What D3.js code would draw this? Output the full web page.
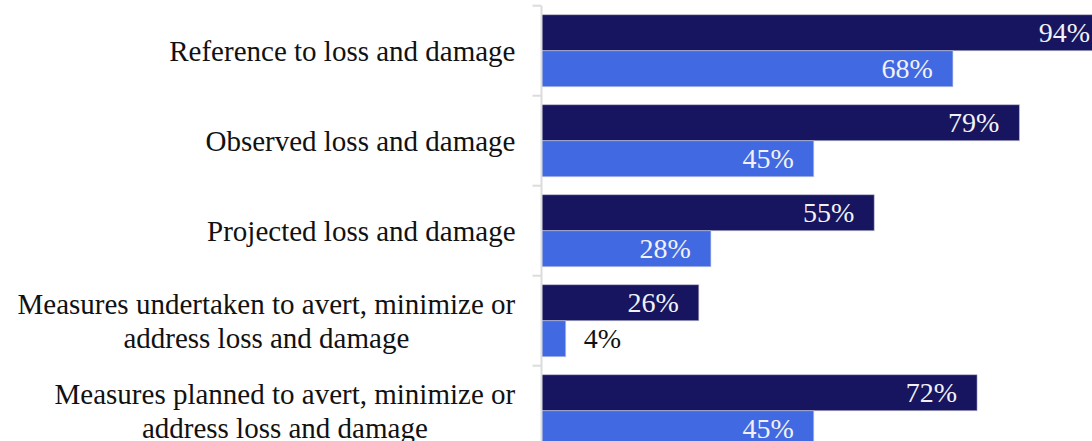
<!DOCTYPE html>
<html>
<head>
<meta charset="utf-8">
<script src="https://cdn.jsdelivr.net/npm/d3@7"></script>
<style>
  html, body { margin: 0; padding: 0; background: #fff; overflow: hidden; }
  svg { display: block; }
  text { font-family: "Liberation Serif", "Times New Roman", serif; }
</style>
</head>
<body>
<svg id="chart" width="1092" height="441"></svg>
<script>
// Categories (each may wrap onto two lines)
const categories = [
  ["Reference to loss and damage"],
  ["Observed loss and damage"],
  ["Projected loss and damage"],
  ["Measures undertaken to avert, minimize or", "address loss and damage"],
  ["Measures planned to avert, minimize or", "address loss and damage"]
];
const seriesNames = ["Share A", "Share B"];
const seriesA = [94, 79, 55, 26, 72];
const seriesB = [68, 45, 28, 4, 45];
const seriesColors = ["#17155f", "#4169e1"];

const width = 1092, height = 441;
const svg = d3.select("#chart");

const axisX = 541.5;
const x = d3.scaleLinear().domain([0, 100]).range([axisX, axisX + 605]);

const keys = categories.map((c, i) => i);
const y = d3.scaleBand().domain(keys).range([5.7, 5.7 + 90 * keys.length]).paddingInner(0).paddingOuter(0);
const inner = d3.scaleBand().domain([0, 1]).range([0, y.bandwidth()]).paddingInner(0).paddingOuter(0.25);

const rows = keys.map(i => ({ i, values: [seriesA[i], seriesB[i]] }));

// Bars
const groups = svg.append("g").selectAll("g")
  .data(rows).join("g")
  .attr("transform", d => `translate(0,${y(d.i)})`);

groups.selectAll("rect")
  .data(d => d.values.map((v, s) => ({ v, s })))
  .join("rect")
  .attr("x", x(0))
  .attr("y", d => inner(d.s))
  .attr("width", d => x(d.v) - x(0))
  .attr("height", inner.bandwidth())
  .attr("fill", d => seriesColors[d.s])
  .attr("stroke", "rgba(200,200,220,0.55)")
  .attr("stroke-width", 1);

// Value labels: inside the bar end when there is room, otherwise just outside
groups.selectAll("text.val")
  .data(d => d.values.map((v, s) => ({ v, s })))
  .join("text")
  .attr("class", "val")
  .attr("y", d => inner(d.s) + inner.bandwidth() / 2)
  .attr("dy", "0.35em")
  .attr("font-size", 28)
  .each(function (d) {
    const inside = x(d.v) - x(0) > 60;
    d3.select(this)
      .attr("x", inside ? x(d.v) - 20 : x(d.v) + 18)
      .attr("text-anchor", inside ? "end" : "start")
      .attr("fill", inside ? "#f2f2f6" : "#111");
  })
  .text(d => d.v + "%");

// Vertical axis with ticks at the band boundaries
const axisG = svg.append("g");
axisG.append("line")
  .attr("x1", axisX).attr("x2", axisX)
  .attr("y1", y.range()[0]).attr("y2", height + 20)
  .attr("stroke", "#dcdcdc").attr("stroke-width", 2);
axisG.selectAll("line.tick")
  .data(d3.range(keys.length + 1))
  .join("line")
  .attr("class", "tick")
  .attr("x1", axisX - 9).attr("x2", axisX)
  .attr("y1", k => y.range()[0] + y.step() * k)
  .attr("y2", k => y.range()[0] + y.step() * k)
  .attr("stroke", "#dcdcdc").attr("stroke-width", 2);

// Category labels
const lineH = 33.5;
const labels = svg.append("g").selectAll("text")
  .data(rows).join("text")
  .attr("text-anchor", "middle")
  .attr("font-size", 29)
  .attr("fill", "#111");

labels.each(function (d) {
  const lines = categories[d.i];
  const cy = y(d.i) + y.bandwidth() / 2;
  const t = d3.select(this);
  lines.forEach((ln, j) => {
    t.append("tspan")
      .attr("x", 0)
      .attr("y", cy + (j - (lines.length - 1) / 2) * lineH)
      .attr("dy", "0.35em")
      .text(ln);
  });
});

// Right-align each label block against the axis, centring its lines
labels.each(function () {
  const bb = this.getBBox();
  const shift = axisX - 26 - (bb.x + bb.width);
  d3.select(this).attr("transform", `translate(${shift},0)`);
});
</script>
</body>
</html>
